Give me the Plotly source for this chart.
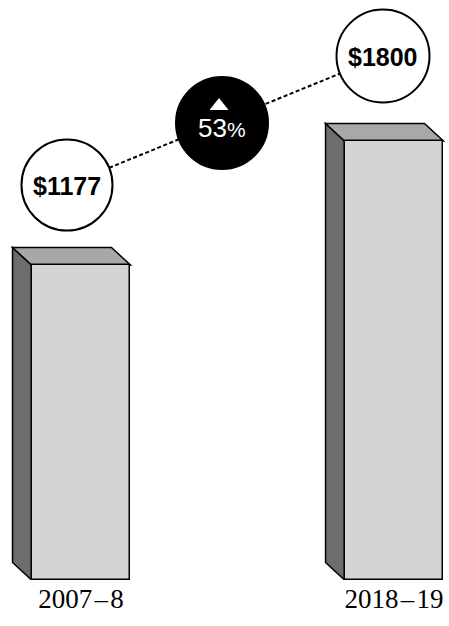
import plotly.graph_objects as go

# ---- data ----
periods = ["2007\u200a–\u200a8", "2018\u200a–\u200a19"]
amounts = [1177, 1800]
change_label = "53"

# ---- layout constants (visual, not data) ----
W, H = 449, 626
BOTTOM_MARGIN = 46
PLOT_H = H - BOTTOM_MARGIN
BAR_FLOOR = -405.6          # value where the drawn bars stop (illustrative, not zero-based)
Y_TOP = 2508.4
X_RANGE = [-0.2588, 1.1757]
BAR_WIDTH = 0.316
DEPTH_X = 0.0607            # 3-D offset in x units
DEPTH_Y = 88                # 3-D offset in y units

FRONT = "#d3d4d6"
TOP = "#a7a8aa"
SIDE = "#6c6d6f"

xs = list(range(len(periods)))

fig = go.Figure()
fig.add_trace(go.Bar(
    x=xs, y=[a - BAR_FLOOR for a in amounts], base=[BAR_FLOOR] * len(amounts),
    width=BAR_WIDTH, marker=dict(color=FRONT, line=dict(color="black", width=1.5)),
    hoverinfo="skip", showlegend=False,
))

shapes = []
for x, a in zip(xs, amounts):
    xl, xr = x - BAR_WIDTH / 2, x + BAR_WIDTH / 2
    # left side face
    shapes.append(dict(
        type="path", xref="x", yref="y", layer="below",
        path=f"M {xl - DEPTH_X} {a + DEPTH_Y} L {xl} {a} L {xl} {BAR_FLOOR} L {xl - DEPTH_X} {BAR_FLOOR + DEPTH_Y} Z",
        fillcolor=SIDE, line=dict(color="black", width=1.5)))
    # top face
    shapes.append(dict(
        type="path", xref="x", yref="y", layer="below",
        path=f"M {xl - DEPTH_X} {a + DEPTH_Y} L {xr - DEPTH_X} {a + DEPTH_Y} L {xr} {a} L {xl} {a} Z",
        fillcolor=TOP, line=dict(color="black", width=1.5)))


def px(x):
    return x / W


def py(y):
    return 1 - y / PLOT_H


# bubble positions in pixels
b1 = (67, 185, 45.5)
b2 = (383, 56, 46.5)
bc = (222, 123, 46)

shapes.append(dict(type="line", xref="paper", yref="paper",
                   x0=px(b1[0]), y0=py(b1[1]), x1=px(b2[0]), y1=py(b2[1]),
                   line=dict(color="black", width=2, dash="4px,2.5px")))
for (cx, cy, r), fill in [(b1, "white"), (b2, "white"), (bc, "black")]:
    shapes.append(dict(type="circle", xref="paper", yref="paper",
                       x0=px(cx - r), x1=px(cx + r), y0=py(cy + r), y1=py(cy - r),
                       fillcolor=fill, line=dict(color="black", width=2)))
# up triangle in the black bubble
shapes.append(dict(type="path", xref="paper", yref="paper",
                   path=f"M {px(219)} {py(98)} L {px(228.5)} {py(110)} L {px(209.5)} {py(110)} Z",
                   fillcolor="white", line=dict(color="white", width=0)))

annotations = []
for (cx, cy, r), a in [(b1, amounts[0]), (b2, amounts[1])]:
    annotations.append(dict(xref="paper", yref="paper", x=px(cx), y=py(cy + 1),
                            text=f"<b>${a}</b>", showarrow=False,
                            font=dict(family="Liberation Sans, Arial", size=25, color="black"),
                            xanchor="center", yanchor="middle"))
annotations.append(dict(xref="paper", yref="paper", x=px(222), y=py(128),
                        text=f"{change_label}<span style='font-size:21px'>%</span>",
                        showarrow=False,
                        font=dict(family="Liberation Sans, Arial", size=26, color="white"),
                        xanchor="center", yanchor="middle"))

fig.update_layout(
    width=W, height=H,
    margin=dict(l=0, r=0, t=0, b=BOTTOM_MARGIN),
    plot_bgcolor="white", paper_bgcolor="white",
    shapes=shapes, annotations=annotations,
    bargap=0,
    xaxis=dict(range=X_RANGE, tickvals=xs, ticktext=periods, showgrid=False,
               zeroline=False, showline=False, ticks="",
               tickfont=dict(family="Liberation Serif, Times New Roman", size=27, color="black")),
    yaxis=dict(range=[BAR_FLOOR, Y_TOP], visible=False, showgrid=False, zeroline=False),
)

fig.write_html("out.html")
